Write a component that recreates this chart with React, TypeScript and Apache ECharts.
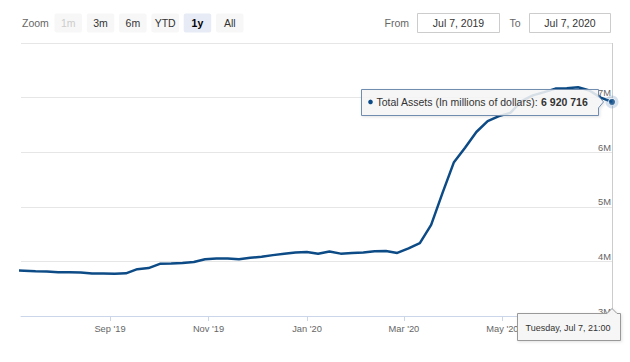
import React, { useEffect, useRef } from "react";
import * as echarts from "echarts";

const SERIES_NAME = "Total Assets (In millions of dollars)";

// Weekly (Wednesday) observations, millions of dollars
const weekDates = [
  "2019-07-03", "2019-07-10", "2019-07-17", "2019-07-24", "2019-07-31",
  "2019-08-07", "2019-08-14", "2019-08-21", "2019-08-28",
  "2019-09-04", "2019-09-11", "2019-09-18", "2019-09-25",
  "2019-10-02", "2019-10-09", "2019-10-16", "2019-10-23", "2019-10-30",
  "2019-11-06", "2019-11-13", "2019-11-20", "2019-11-27",
  "2019-12-04", "2019-12-11", "2019-12-18", "2019-12-25",
  "2020-01-01", "2020-01-08", "2020-01-15", "2020-01-22", "2020-01-29",
  "2020-02-05", "2020-02-12", "2020-02-19", "2020-02-26",
  "2020-03-04", "2020-03-11", "2020-03-18", "2020-03-25",
  "2020-04-01", "2020-04-08", "2020-04-15", "2020-04-22", "2020-04-29",
  "2020-05-06", "2020-05-13", "2020-05-20", "2020-05-27",
  "2020-06-03", "2020-06-10", "2020-06-17", "2020-06-24",
  "2020-07-01", "2020-07-08",
];
const totalAssets = [
  3840000, 3830000, 3820000, 3815000, 3800000,
  3800000, 3798000, 3780000, 3778000,
  3776000, 3782000, 3858000, 3878000,
  3955000, 3960000, 3970000, 3990000, 4038000,
  4055000, 4055000, 4040000, 4065000,
  4085000, 4115000, 4140000, 4165000,
  4173000, 4140000, 4182000, 4142000, 4155000,
  4165000, 4185000, 4190000, 4155000,
  4240000, 4335000, 4670000, 5250000,
  5810000, 6080000, 6370000, 6570000, 6660000,
  6720000, 6935000, 7040000, 7100000,
  7165000, 7170000, 7190000, 7130000,
  7000000, 6920716,
];

const xTickDates = ["2019-09-01", "2019-11-01", "2020-01-01", "2020-03-01", "2020-05-01"];
const xTickLabels = ["Sep '19", "Nov '19", "Jan '20", "Mar '20", "May '20"];
const yMin = 3000000;
const yMax = 8000000;
const yStep = 1000000;

const zoomButtons = ["1m", "3m", "6m", "YTD", "1y", "All"];
const disabledButton = "1m";
const selectedButton = "1y";

const rangeStart = "2019-07-07T21:00:00Z";
const rangeEnd = "2020-07-07T21:00:00Z";
const TZ_SHIFT_HOURS = -3;

const LINE = "#0d4b86";
const FONT = "'Liberation Sans', Arial, Helvetica, sans-serif";
const MONTHS = ["Jan", "Feb", "Mar", "Apr", "May", "Jun", "Jul", "Aug", "Sep", "Oct", "Nov", "Dec"];
const DAYS = ["Sunday", "Monday", "Tuesday", "Wednesday", "Thursday", "Friday", "Saturday"];

const toTs = (d: string) => Date.parse(d + "T00:00:00Z") + TZ_SHIFT_HOURS * 3600 * 1000;
const fmtNum = (v: number) => String(v).replace(/\B(?=(\d{3})+(?!\d))/g, " ");
const fmtDay = (ts: number) => {
  const d = new Date(ts);
  return `${MONTHS[d.getUTCMonth()]} ${d.getUTCDate()}, ${d.getUTCFullYear()}`;
};
const fmtHeader = (ts: number) => {
  const d = new Date(ts);
  const hh = String(d.getUTCHours()).padStart(2, "0");
  const mm = String(d.getUTCMinutes()).padStart(2, "0");
  return `${DAYS[d.getUTCDay()]}, ${MONTHS[d.getUTCMonth()]} ${d.getUTCDate()}, ${hh}:${mm}`;
};

export default function App() {
  const ref = useRef<HTMLDivElement>(null);

  useEffect(() => {
    document.body.style.margin = "0";
    if (!ref.current) return;
    const chart = echarts.init(ref.current, null, { renderer: "svg" });

    const data = weekDates.map((d, i) => [toTs(d), totalAssets[i]]);
    const last = data[data.length - 1];
    const tickTs = xTickDates.map((d) => Date.parse(d + "T00:00:00Z"));
    const minTs = Date.parse(rangeStart);
    const maxTs = Date.parse(rangeEnd);

    chart.setOption({
      animation: false,
      textStyle: { fontFamily: FONT },
      grid: { left: 21, right: 18, top: 43, bottom: 46, containLabel: false, outerBoundsMode: "none" },
      xAxis: {
        type: "value",
        min: minTs,
        max: maxTs,
        scale: true,
        axisLine: { show: true, onZero: false, lineStyle: { color: "#ccd6eb", width: 1 } },
        axisTick: { show: true, customValues: tickTs, length: 5, lineStyle: { color: "#ccd6eb" } },
        axisLabel: {
          customValues: tickTs,
          color: "#666666",
          fontSize: 9.3,
          margin: 8,
          fontFamily: FONT,
          formatter: (v: number) => {
            const i = tickTs.indexOf(v);
            return i >= 0 ? xTickLabels[i] : "";
          },
        },
        splitLine: { show: false },
      },
      yAxis: {
        type: "value",
        position: "right",
        min: yMin,
        max: yMax,
        interval: yStep,
        axisLine: { show: false },
        axisTick: { show: false },
        splitLine: { show: true, lineStyle: { color: "#e6e6e6", width: 1 } },
        axisLabel: {
          inside: true,
          showMaxLabel: false,
          color: "#666666",
          fontSize: 9.3,
          fontFamily: FONT,
          margin: 1,
          verticalAlign: "bottom",
          formatter: (v: number) => v / 1000000 + "M",
        },
      },
      series: [
        {
          type: "line",
          name: SERIES_NAME,
          data,
          showSymbol: false,
          symbol: "none",
          clip: true,
          lineStyle: { color: LINE, width: 2.5 },
          itemStyle: { color: LINE },
          z: 3,
          markLine: {
            silent: true,
            symbol: "none",
            label: { show: false },
            lineStyle: { color: "#cccccc", width: 1, type: "solid" },
            data: [{ xAxis: last[0] }],
            z: 1,
          },
        },
        {
          type: "scatter",
          data: [last],
          symbolSize: 13,
          clip: false,
          silent: true,
          itemStyle: { color: "rgba(70,120,175,0.28)" },
          z: 4,
        },
        {
          type: "scatter",
          data: [last],
          symbolSize: 7,
          clip: false,
          silent: true,
          itemStyle: { color: LINE, borderColor: "#ffffff", borderWidth: 1 },
          z: 5,
        },
      ],
    });

    const p = chart.convertToPixel({ seriesIndex: 0 }, last) as number[];
    const axisY = chart.convertToPixel({ yAxisIndex: 0 }, yMin) as number;

    const txt = (x: number, y: number, text: string, extra: any = {}) => ({
      type: "text",
      x,
      y,
      z: 100,
      style: {
        text,
        fill: "#666666",
        fontSize: 10.5,
        fontFamily: FONT,
        align: "left",
        textAlign: "left",
        verticalAlign: "middle",
        textVerticalAlign: "middle",
        ...extra,
      },
    });

    const elements: any[] = [];
    // Range selector
    elements.push(txt(22, 23, "Zoom"));
    zoomButtons.forEach((b, i) => {
      const bx = 54.5 + i * 32.3;
      const sel = b === selectedButton;
      const dis = b === disabledButton;
      elements.push({
        type: "rect",
        z: 100,
        shape: { x: bx, y: 13.5, width: 27.5, height: 19, r: 2 },
        style: { fill: sel ? "#e6ebf5" : "#f7f7f7", stroke: "none" },
      });
      elements.push(
        txt(bx + 13.75, 23, b, {
          align: "center",
          textAlign: "center",
          fill: dis ? "#cccccc" : sel ? "#000000" : "#333333",
          fontWeight: sel ? "bold" : "normal",
        })
      );
    });
    elements.push(txt(409, 23, "From", { align: "right", textAlign: "right" }));
    elements.push({
      type: "rect",
      z: 100,
      shape: { x: 417.5, y: 13.5, width: 82, height: 19 },
      style: { fill: "#ffffff", stroke: "#cccccc", lineWidth: 1 },
    });
    elements.push(txt(458.5, 23, fmtDay(minTs), { align: "center", textAlign: "center", fill: "#333333" }));
    elements.push(txt(520.5, 23, "To", { align: "right", textAlign: "right" }));
    elements.push({
      type: "rect",
      z: 100,
      shape: { x: 529.5, y: 13.5, width: 81, height: 19 },
      style: { fill: "#ffffff", stroke: "#cccccc", lineWidth: 1 },
    });
    elements.push(txt(570, 23, fmtDay(maxTs), { align: "center", textAlign: "center", fill: "#333333" }));

    // Series tooltip (callout pointing right to the hovered point)
    const bx1 = Math.round(p[0] - 14) + 0.5;
    const bx0 = bx1 - 237;
    const cy = p[1];
    const by0 = Math.round(cy - 13) + 0.5;
    const by1 = by0 + 26;
    elements.push({
      type: "polygon",
      z: 100,
      shape: {
        points: [
          [bx0, by0], [bx1, by0], [bx1, cy - 6], [bx1 + 5, cy], [bx1, cy + 6], [bx1, by1], [bx0, by1],
        ],
      },
      style: {
        fill: "rgba(247,247,247,0.85)",
        stroke: "#6f8db0",
        lineWidth: 1,
        shadowColor: "rgba(0,0,0,0.12)",
        shadowBlur: 3,
        shadowOffsetX: 1,
        shadowOffsetY: 1,
      },
    });
    elements.push({
      type: "circle",
      z: 101,
      shape: { cx: bx0 + 9, cy, r: 2.3 },
      style: { fill: LINE },
    });
    elements.push({
      type: "text",
      x: bx0 + 15,
      y: cy,
      z: 101,
      style: {
        text: `{lab|${SERIES_NAME}: }{val|${fmtNum(last[1] as number)}}`,
        verticalAlign: "middle",
        textVerticalAlign: "middle",
        fontFamily: FONT,
        rich: {
          lab: { fill: "#333333", fontSize: 10.5, fontFamily: FONT },
          val: { fill: "#333333", fontSize: 10.5, fontWeight: "bold", fontFamily: FONT },
        },
      },
    });

    // Date header label on the x axis
    const px = p[0];
    const hx1 = Math.round(px + 8) + 0.5;
    const hx0 = hx1 - 103;
    const hy0 = Math.round(axisY - 3) + 0.5;
    const hy1 = hy0 + 27;
    elements.push({
      type: "polygon",
      z: 100,
      shape: {
        points: [
          [hx0, hy0], [px - 5, hy0], [px, hy0 - 5], [px + 5, hy0], [hx1, hy0], [hx1, hy1], [hx0, hy1],
        ],
      },
      style: {
        fill: "rgba(247,247,247,0.95)",
        stroke: "#999999",
        lineWidth: 1,
        shadowColor: "rgba(0,0,0,0.12)",
        shadowBlur: 3,
        shadowOffsetX: 1,
        shadowOffsetY: 1,
      },
    });
    elements.push(
      txt((hx0 + hx1) / 2 - 1, (hy0 + hy1) / 2 + 1, fmtHeader(last[0] as number), {
        align: "center",
        textAlign: "center",
        fill: "#333333",
        fontSize: 9,
      })
    );

    chart.setOption({ graphic: { elements } });

    return () => chart.dispose();
  }, []);

  return <div ref={ref} style={{ width: 630, height: 362 }} />;
}
